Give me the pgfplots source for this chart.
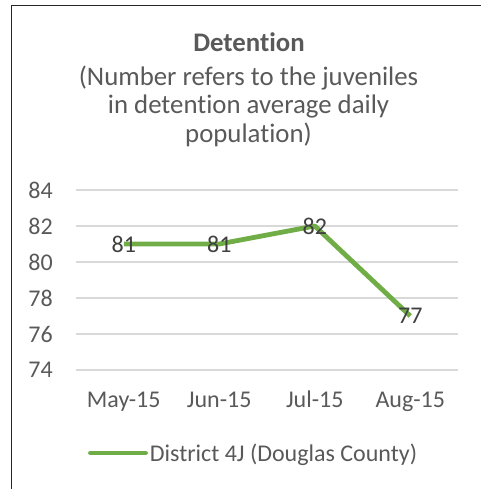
\documentclass[border=0pt]{standalone}
\usepackage{pgfplots}
\pgfplotsset{compat=1.18}
\usepackage{fontspec}
\setmainfont{Carlito}[Ligatures=CommonOff]
\definecolor{txt}{HTML}{595959}
\definecolor{gridc}{HTML}{D9D9D9}
\definecolor{lgreen}{HTML}{70AD47}
\definecolor{lbl}{HTML}{404040}
\begin{document}
\begin{tikzpicture}
\useasboundingbox (0bp,0bp) rectangle (481bp,489bp);
\draw[line width=1.3bp, black!85] (11.5bp,0bp) -- (11.5bp,483.5bp) -- (481bp,483.5bp);
\node[font=\fontsize{26.8bp}{30bp}\selectfont\bfseries, text=txt, anchor=base] at (249bp,437bp) {Detention};
\node[font=\fontsize{26.8bp}{30bp}\selectfont, text=txt, anchor=base] at (248.5bp,403bp) {(Number refers to the juveniles};
\node[font=\fontsize{26.8bp}{30bp}\selectfont, text=txt, anchor=base] at (248.5bp,375bp) {in detention average daily};
\node[font=\fontsize{26.8bp}{30bp}\selectfont, text=txt, anchor=base] at (248.5bp,346.5bp) {population)};
\begin{axis}[
  at={(76bp,119bp)}, anchor=south west,
  width=382bp, height=180bp, scale only axis,
  xmin=-0.5, xmax=3.5, ymin=74, ymax=84,
  axis line style={draw=none},
  major tick style={draw=none}, major tick length=0pt,
  ytick={74,76,78,80,82,84},
  xtick={0,1,2,3},
  xticklabels={May-15,Jun-15,Jul-15,Aug-15},
  ymajorgrids, grid style={gridc, line width=1.2bp},
  tick label style={font=\fontsize{24bp}{28bp}\selectfont, text=txt, inner sep=0pt},
  yticklabel style={anchor=east, xshift=-23bp},
  xticklabel style={anchor=base, yshift=-38bp},
  /pgf/number format/assume math mode=true,
  clip=false,
  legend style={at={(0.465,-0.461)}, anchor=center, draw=none, fill=none,
    font=\fontsize{24bp}{28bp}\selectfont, text=txt, inner sep=0pt,
    /tikz/every even column/.style={column sep=0pt}},
  legend image code/.code={\draw[#1, line cap=round] (0bp,0bp) -- (55bp,0bp);},
]
\addplot[color=lgreen, line width=4.8bp, line join=round, mark=none,
  nodes near coords,
  every node near coord/.append style={anchor=center, inner sep=0pt,
    font=\fontsize{24bp}{28bp}\selectfont, text=lbl}]
  coordinates {(0,81) (1,81) (2,82) (3,77)};
\addlegendentry{District 4J (Douglas County)}
\end{axis}
\end{tikzpicture}
\end{document}
